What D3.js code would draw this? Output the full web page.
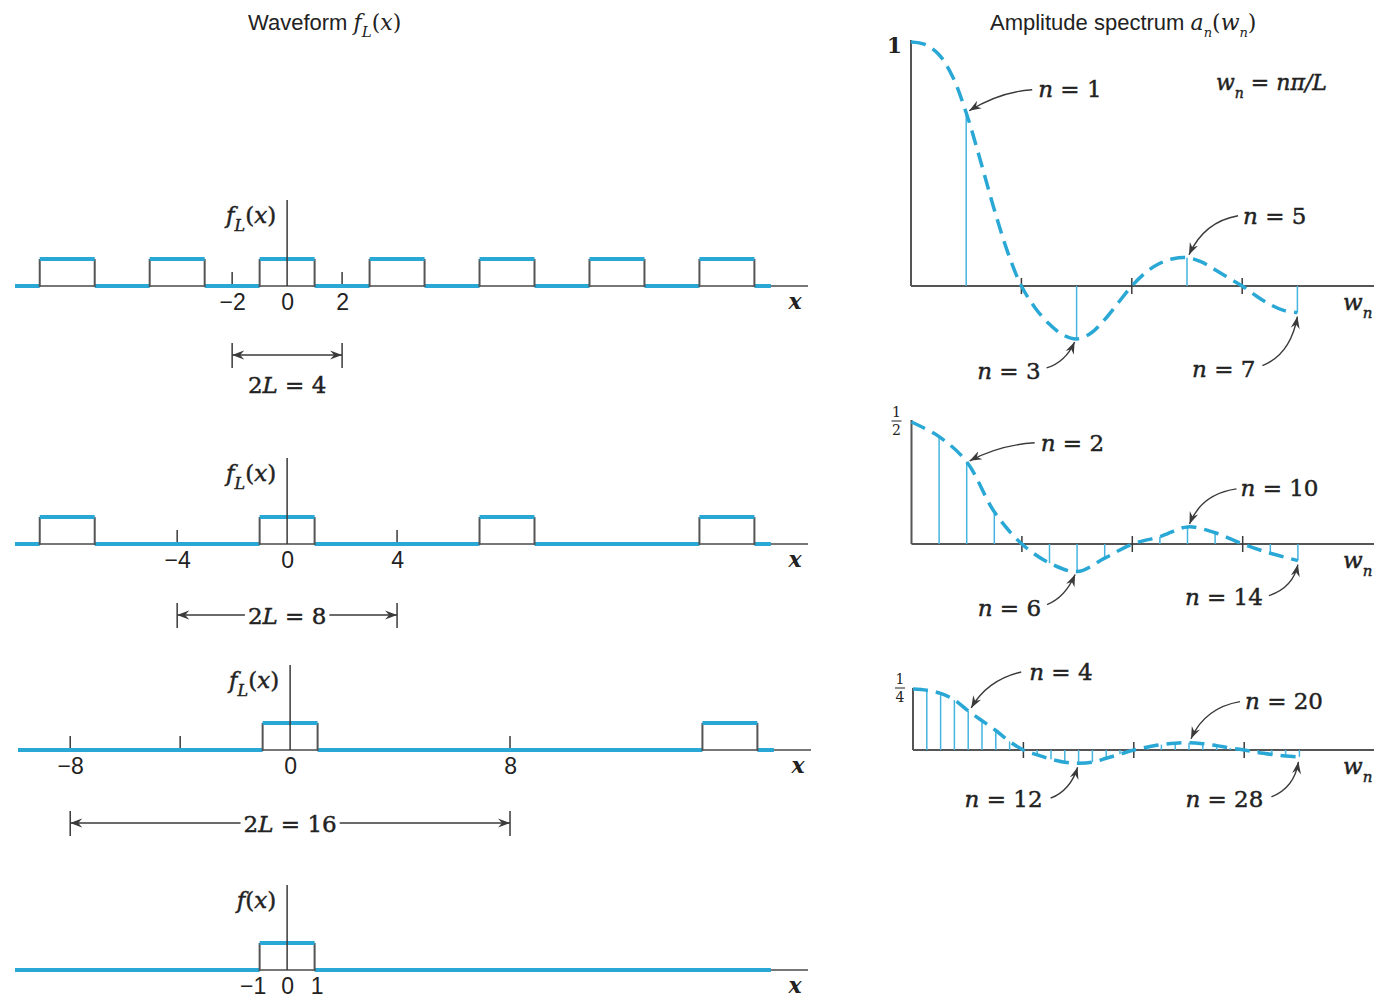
<!DOCTYPE html>
<html>
<head>
<meta charset="utf-8">
<script src="https://cdn.jsdelivr.net/npm/d3@7"></script>
<style>
    body { margin: 0; background: #fff; }
    svg { display: block; }
    .m { stroke: #222; stroke-width: 0.45px; }
</style>
</head>
<body>
<svg width="1374" height="1003"></svg>
<script>
// waveforms: centres of the unit pulses (each pulse is 1 on [c-1, c+1])
const PULSES_L2 = [-8, -4, 0, 4, 8, 12, 16];
const PULSES_L4 = [-8, 0, 8, 16];
const PULSES_L8 = [0, 16];
const PULSES_INF = [0];
const TICKS_L2 = [-2, 2];
const TICKS_L4 = [-4, 4];
const TICKS_L8 = [-8, -4, 8];
const TICKS_INF = [];
const LABELS_L2 = [-2, 0, 2];
const LABELS_L4 = [-4, 0, 4];
const LABELS_L8 = [-8, 0, 8];
const LABELS_INF = [-1, 0, 1];

// spectra: u = position on the L = 2 harmonic grid (u = 2n/L)
const CURVE_L2 = [[0, 1], [0.25, 0.99], [0.5, 0.95], [0.75, 0.86], [1, 0.71], [1.25, 0.52],
    [1.5, 0.32], [1.75, 0.14], [2, 0], [2.25, -0.09], [2.5, -0.155], [2.75, -0.2], [3, -0.217],
    [3.25, -0.195], [3.5, -0.14], [3.75, -0.07], [4, 0], [4.25, 0.055], [4.5, 0.092],
    [4.75, 0.112], [5, 0.116], [5.25, 0.1], [5.5, 0.068], [5.75, 0.034], [6, 0],
    [6.25, -0.04], [6.5, -0.075], [6.75, -0.1], [7, -0.109]];
const STEMS_L2 = [0.71, 0, -0.217, 0, 0.116, 0, -0.109];               // n = 1..7
const STEMS_L4 = [0.44, 0.337, 0.132, 0, -0.078, -0.113, -0.058, 0,
    0.03, 0.07, 0.046, 0, -0.038, -0.068];                                 // n = 1..14
const STEMS_L8 = [0.245, 0.232, 0.205, 0.16, 0.12, 0.08, 0.035, 0,
    -0.02, -0.038, -0.05, -0.054, -0.05, -0.034, -0.017, 0,
    0.012, 0.022, 0.028, 0.03, 0.026, 0.018, 0.008, 0,
    -0.01, -0.018, -0.025, -0.028];                                         // n = 1..28
const A0 = [1, 0.5, 0.25];
const ZEROS = [2, 4, 6];
const ANNOT_L2 = [1, 3, 5, 7];
const ANNOT_L4 = [2, 6, 10, 14];
const ANNOT_L8 = [4, 12, 20, 28];

const BLUE = '#29a7d5';
const INK = '#3a3a3a';
const SERIF = '"DejaVu Serif", "Liberation Serif", serif';
const SANS = '"Liberation Sans", Arial, sans-serif';

const svg = d3.select('svg');

const defs = svg.append('defs');
defs.append('marker')
    .attr('id', 'head')
    .attr('viewBox', '-12 -6 14 12')
    .attr('markerUnits', 'userSpaceOnUse')
    .attr('markerWidth', 14).attr('markerHeight', 12)
    .attr('refX', 0).attr('refY', 0)
    .attr('orient', 'auto-start-reverse')
    .append('path')
    .attr('d', 'M0,0 L-12,-4.5 L-8,0 L-12,4.5 Z')
    .attr('fill', INK);

// rich text: parts = [[text, style]], style: 'i' italic, 's' subscript
function rich(text, parts, subSize) {
    let shift = 0;
    parts.forEach(([t, st]) => {
        const sp = text.append('tspan').text(t);
        const sub = st.includes('s');
        const dy = (sub ? 8 : 0) - shift;
        if (dy) sp.attr('dy', dy);
        shift = sub ? 8 : 0;
        if (st.includes('i')) sp.attr('font-style', 'italic');
        if (sub) sp.attr('font-size', subSize);
    });
    return text;
}

// titles
const t1 = svg.append('text').attr('x', 248).attr('y', 30)
    .style('font-family', SANS).style('font-size', '22px').attr('fill', '#222');
t1.append('tspan').text('Waveform ');
t1.append('tspan').style('font-family', SERIF).style('font-style', 'italic').text('f');
t1.append('tspan').style('font-family', SERIF).style('font-style', 'italic')
    .attr('dy', 7).style('font-size', '15px').text('L');
t1.append('tspan').style('font-family', SERIF).attr('dy', -7).text('(');
t1.append('tspan').style('font-family', SERIF).style('font-style', 'italic').text('x');
t1.append('tspan').style('font-family', SERIF).text(')');

const t2 = svg.append('text').attr('x', 990).attr('y', 30)
    .style('font-family', SANS).style('font-size', '22px').attr('fill', '#222');
t2.append('tspan').text('Amplitude spectrum ');
t2.append('tspan').style('font-family', SERIF).style('font-style', 'italic').text('a');
t2.append('tspan').style('font-family', SERIF).style('font-style', 'italic')
    .attr('dy', 7).style('font-size', '13px').text('n');
t2.append('tspan').style('font-family', SERIF).attr('dy', -7).text('(');
t2.append('tspan').style('font-family', SERIF).style('font-style', 'italic').text('w');
t2.append('tspan').style('font-family', SERIF).style('font-style', 'italic')
    .attr('dy', 7).style('font-size', '13px').text('n');
t2.append('tspan').style('font-family', SERIF).attr('dy', -7).text(')');

// ---------- waveform panels ----------
const xW = d3.scaleLinear().domain([-9.9, 18.95]).range([15, 808]);
const BLUE_END = 17.6;

const wavePanels = [
    { y0: 286, dx: 0, pulses: PULSES_L2, ticks: TICKS_L2, labels: LABELS_L2, L: 2, label: 'fL', top: 200 },
    { y0: 544, dx: 0, pulses: PULSES_L4, ticks: TICKS_L4, labels: LABELS_L4, L: 4, label: 'fL', top: 458 },
    { y0: 750, dx: 3, pulses: PULSES_L8, ticks: TICKS_L8, labels: LABELS_L8, L: 8, label: 'fL', top: 665 },
    { y0: 970, dx: 0, pulses: PULSES_INF, ticks: TICKS_INF, labels: LABELS_INF, L: null, label: 'f', top: 885 }
];

wavePanels.forEach((p, pi) => {
    const g = svg.append('g').attr('transform', `translate(${p.dx},0)`);
    const y = d3.scaleLinear().domain([0, 1]).range([p.y0, p.y0 - 27]);

    // x axis
    g.append('line')
        .attr('x1', xW(-9.9)).attr('x2', xW(18.95))
        .attr('y1', y(0)).attr('y2', y(0))
        .attr('stroke', '#777').attr('stroke-width', 2);

    // tick marks pointing up
    g.selectAll('.tk').data(p.ticks).enter().append('line')
        .attr('x1', d => xW(d)).attr('x2', d => xW(d))
        .attr('y1', y(0)).attr('y2', y(0) - 14)
        .attr('stroke', INK).attr('stroke-width', 1.5);

    // tick labels
    const axis = d3.axisBottom(xW).tickValues(p.labels).tickSize(0).tickPadding(8);
    const ag = g.append('g').attr('transform', `translate(0,${y(0)})`).call(axis);
    ag.select('.domain').remove();
    ag.selectAll('text')
        .style('font-family', SANS).style('font-size', '23px').attr('fill', '#222');
    if (p.L === null) {
        ag.selectAll('.tick').filter(d => d === -1).select('text').attr('dx', -7);
        ag.selectAll('.tick').filter(d => d === 1).select('text').attr('dx', 2);
    }

    // low parts of the signal (blue)
    const lows = [];
    let s = -9.9;
    p.pulses.forEach(c => { lows.push([s, c - 1]); s = c + 1; });
    lows.push([s, BLUE_END]);
    g.selectAll('.low').data(lows).enter().append('line')
        .attr('x1', d => xW(d[0])).attr('x2', d => xW(d[1]))
        .attr('y1', y(0)).attr('y2', y(0))
        .attr('stroke', BLUE).attr('stroke-width', 4);

    // pulses: grey sides, blue top
    const pg = g.selectAll('.pulse').data(p.pulses).enter().append('g');
    pg.append('path')
        .attr('d', c => `M${xW(c - 1)},${y(0) + 1}V${y(1)}M${xW(c + 1)},${y(0) + 1}V${y(1)}`)
        .attr('stroke', '#555').attr('stroke-width', 2).attr('fill', 'none');
    pg.append('line')
        .attr('x1', c => xW(c - 1)).attr('x2', c => xW(c + 1))
        .attr('y1', y(1)).attr('y2', y(1))
        .attr('stroke', BLUE).attr('stroke-width', 4);

    // vertical axis
    g.append('line')
        .attr('x1', xW(0)).attr('x2', xW(0))
        .attr('y1', p.top).attr('y2', y(0))
        .attr('stroke', INK).attr('stroke-width', 1.5);

    // f_L(x) label
    const fl = g.append('text').attr('class', 'm')
        .attr('x', xW(0) - 11).attr('y', p.top + 23)
        .attr('text-anchor', 'end')
        .style('font-family', SERIF).style('font-size', '23px').attr('fill', '#222');
    if (p.label === 'fL') {
        rich(fl, [['f', 'i'], ['L', 'is'], ['(', ''], ['x', 'i'], [')', '']], '16px');
    } else {
        rich(fl, [['f', 'i'], ['(', ''], ['x', 'i'], [')', '']], '16px');
    }

    // x label
    g.append('text')
        .attr('x', xW(18.95) - 13).attr('y', y(0) + 23)
        .attr('text-anchor', 'middle')
        .style('font-family', SERIF).style('font-style', 'italic').style('font-weight', 'bold')
        .style('font-size', '22px').attr('fill', '#222').text('x');

    // 2L dimension
    if (p.L !== null) {
        const dy = [355, 615, 823][pi];
        const dim = g.append('g');
        dim.append('line')
            .attr('x1', xW(-p.L)).attr('x2', xW(p.L))
            .attr('y1', dy).attr('y2', dy)
            .attr('stroke', INK).attr('stroke-width', 1.3)
            .attr('marker-start', 'url(#head)').attr('marker-end', 'url(#head)');
        [-p.L, p.L].forEach(v => {
            dim.append('line')
                .attr('x1', xW(v)).attr('x2', xW(v))
                .attr('y1', dy - 12).attr('y2', dy + 13)
                .attr('stroke', INK).attr('stroke-width', 1.5);
        });
        const inline = pi > 0;
        const tx = dim.append('text').attr('class', 'm')
            .attr('x', xW(0)).attr('y', inline ? dy + 9 : dy + 38)
            .attr('text-anchor', 'middle')
            .style('font-family', SERIF).style('font-size', '23px').attr('fill', '#222');
        rich(tx, [['2', ''], ['L', 'i'], [' = ' + 2 * p.L, '']], '16px');
        if (inline) {
            const bb = tx.node().getBBox();
            dim.insert('rect', 'text')
                .attr('x', bb.x - 3).attr('y', dy - 3)
                .attr('width', bb.width + 6).attr('height', 6)
                .attr('fill', '#fff');
        }
    }
});

// ---------- spectrum panels ----------
const specPanels = [
    { L: 2, zero: 286, top: 40, x0: 911, stems: STEMS_L2, a0: A0[0], curve: CURVE_L2, annot: ANNOT_L2,
      lay: [[72, -16, 'start', 66, -23, 34, -21, 3, -2],
            [-36, 40, 'end', -30, 29, -11, 23, -2, 3],
            [56, -34, 'start', 51, -42, 17, -36, 2, -3],
            [-42, 64, 'end', -35, 53, -7, 42, 0, 4]] },
    { L: 4, zero: 544, top: 420, x0: 911.5, stems: STEMS_L4, a0: A0[1], curve: null, annot: ANNOT_L4,
      lay: [[74, -11, 'start', 68, -19, 34, -17, 3, -1],
            [-36, 44, 'end', -30, 33, -12, 26, -2, 3],
            [53, -31, 'start', 49, -38, 14, -33, 2, -3],
            [-35, 44, 'end', -29, 35, -5, 27, 0, 4]] },
    { L: 8, zero: 750, top: 688, x0: 913, stems: STEMS_L8, a0: A0[2], curve: null, annot: ANNOT_L8,
      lay: [[61, -31, 'start', 53, -39, 19, -31, 3, -3],
            [-36, 44, 'end', -28, 35, -8, 27, -1, 4],
            [56, -34, 'start', 51, -41, 16, -35, 2, -4],
            [-36, 50, 'end', -28, 40, -5, 31, -1, 5]] }
];

specPanels.forEach((p, pi) => {
    const g = svg.append('g');
    const x = d3.scaleLinear().domain([0, 1]).range([p.x0, p.x0 + 55.2]);
    const y = d3.scaleLinear().domain([0, 1]).range([p.zero, p.zero - 244]);
    const u = n => n * 2 / p.L;

    // axes
    g.append('line')
        .attr('x1', x(0)).attr('x2', 1374)
        .attr('y1', y(0)).attr('y2', y(0))
        .attr('stroke', '#555').attr('stroke-width', 2);
    g.append('line')
        .attr('x1', x(0)).attr('x2', x(0))
        .attr('y1', p.top).attr('y2', y(0))
        .attr('stroke', '#555').attr('stroke-width', 2);
    g.selectAll('.z').data(ZEROS).enter().append('line')
        .attr('x1', d => x(d)).attr('x2', d => x(d))
        .attr('y1', y(0) - 8).attr('y2', y(0) + 8)
        .attr('stroke', INK).attr('stroke-width', 1.5);

    // stems
    const stems = p.stems.map((v, i) => [u(i + 1), v]);
    g.selectAll('.stem').data(stems.filter(d => d[1] !== 0)).enter().append('line')
        .attr('x1', d => x(d[0])).attr('x2', d => x(d[0]))
        .attr('y1', y(0)).attr('y2', d => y(d[1]))
        .attr('stroke', '#45b4de').attr('stroke-width', 1.5);

    // dashed envelope
    const pts = p.curve || [[0, p.a0]].concat(stems);
    g.append('path')
        .datum(pts)
        .attr('d', d3.line().x(d => x(d[0])).y(d => y(d[1])).curve(d3.curveCatmullRom))
        .attr('fill', 'none').attr('stroke', BLUE).attr('stroke-width', 3.5)
        .attr('stroke-dasharray', '15,8');

    // y value label
    if (pi === 0) {
        g.append('text').attr('x', x(0) - 9).attr('y', p.top + 13)
            .attr('text-anchor', 'end')
            .style('font-family', SERIF).style('font-weight', 'bold').style('font-size', '22px')
            .attr('fill', '#222').text('1');
    } else {
        const fx = x(0) - 15 + (pi === 2 ? 2 : 0);
        const fy = y(p.a0);
        const den = pi === 1 ? '2' : '4';
        const fg = g.append('g').style('font-family', SERIF).style('font-size', '14px')
            .attr('fill', '#222').attr('text-anchor', 'middle');
        fg.append('text').attr('x', fx).attr('y', fy - 5).text('1');
        fg.append('line').attr('x1', fx - 5).attr('x2', fx + 5)
            .attr('y1', fy - 1).attr('y2', fy - 1).attr('stroke', '#222').attr('stroke-width', 1);
        fg.append('text').attr('x', fx).attr('y', fy + 13).text(den);
    }

    // w_n axis label
    const wl = g.append('text').attr('class', 'm').attr('x', 1343).attr('y', y(0) + 24)
        .style('font-family', SERIF).style('font-size', '23px').attr('fill', '#222');
    rich(wl, [['w', 'i'], ['n', 'is']], '15px');

    // annotations
    p.annot.forEach((n, k) => {
        const tx = x(u(n)), ty = y(p.stems[n - 1]);
        const l = p.lay[k];
        const t = g.append('text').attr('class', 'm')
            .attr('x', tx + l[0]).attr('y', ty + l[1])
            .attr('text-anchor', l[2])
            .style('font-family', SERIF).style('font-size', '23px').attr('fill', '#222');
        rich(t, [['n', 'i'], [' = ' + n, '']], '15px');
        const path = d3.path();
        path.moveTo(tx + l[3], ty + l[4]);
        path.quadraticCurveTo(tx + l[5], ty + l[6], tx + l[7], ty + l[8]);
        g.append('path')
            .attr('d', path.toString())
            .attr('fill', 'none').attr('stroke', INK).attr('stroke-width', 1.4)
            .attr('marker-end', 'url(#head)');
    });

    if (pi === 0) {
        const f = g.append('text').attr('class', 'm').attr('x', 1216).attr('y', 90)
            .style('font-family', SERIF).style('font-size', '22px').attr('fill', '#222');
        rich(f, [['w', 'i'], ['n', 'is'], [' = ', ''], ['nπ/L', 'i']], '14px');
    }
});
</script>
</body>
</html>
